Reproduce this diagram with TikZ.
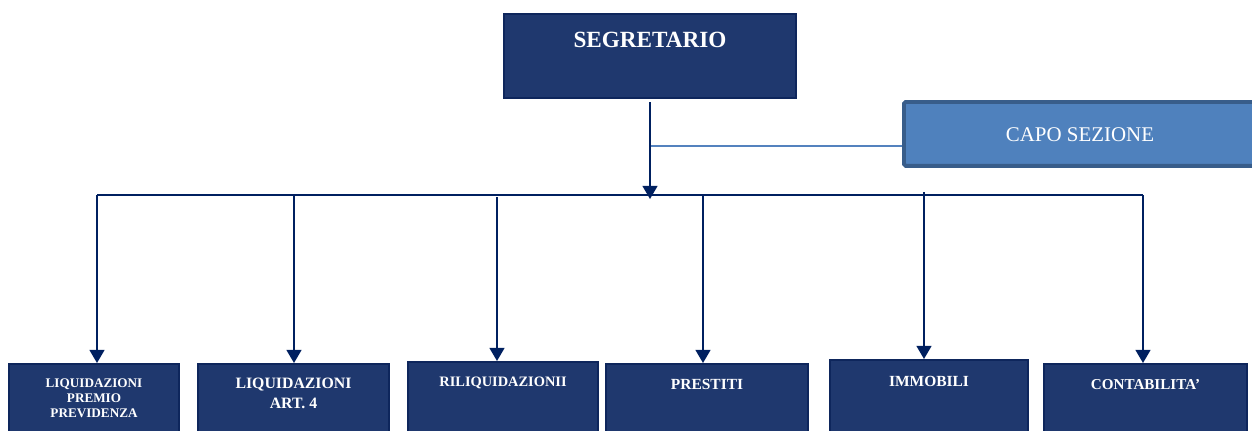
\documentclass[tikz,border=0pt]{standalone}
\usepackage{fontspec}
\setmainfont{Liberation Serif}
\usetikzlibrary{arrows.meta}
\definecolor{navyfill}{RGB}{31,56,110}
\definecolor{navyedge}{RGB}{14,38,92}
\definecolor{arrowc}{RGB}{0,32,96}
\definecolor{capofill}{RGB}{79,129,189}
\definecolor{capoedge}{RGB}{56,93,138}
\definecolor{capoline}{RGB}{84,130,190}
\begin{document}
\begin{tikzpicture}[x=0.02cm,y=-0.02cm,
  box/.style={draw=navyedge, line width=1.2pt, fill=navyfill, inner sep=0pt, anchor=north west},
  capobox/.style={draw=capoedge, line width=2.2pt, fill=capofill, inner sep=0pt, anchor=north west, rounded corners=1pt},
  txt/.style={text=white, inner sep=0pt, anchor=base, align=center, font=\bfseries\fontsize{8.8}{10.5}\selectfont},
  conn/.style={draw=arrowc, line width=1.1pt},
  arr/.style={-{Triangle[width=8.5pt,length=7.5pt]}}
]
\fill[white] (0,0) rectangle (1252,430);
\useasboundingbox (0,0) rectangle (1252,430);
\clip (0,0) rectangle (1252,430);

% boxes
\node[box, minimum width=5.84cm, minimum height=1.68cm] (seg) at (503,13) {};
\node[capobox, minimum width=7.4cm, minimum height=1.28cm] (capo) at (902,100) {};
\node[box, minimum width=3.40cm, minimum height=1.70cm] (b1) at (8,363) {};
\node[box, minimum width=3.82cm, minimum height=1.70cm] (b2) at (197,363) {};
\node[box, minimum width=3.80cm, minimum height=1.74cm] (b3) at (407,361) {};
\node[box, minimum width=4.04cm, minimum height=1.70cm] (b4) at (605,363) {};
\node[box, minimum width=3.96cm, minimum height=1.78cm] (b5) at (829,359) {};
\node[box, minimum width=4.06cm, minimum height=1.70cm] (b6) at (1043,363) {};

% texts
\node[txt, font=\bfseries\fontsize{13.2}{15}\selectfont] (tseg) at (seg.north |- 0,47) {SEGRETARIO};
\node[txt, font=\fontsize{11.9}{14}\selectfont] (tcapo) at (1080,141) {CAPO SEZIONE};
\node[txt, font=\bfseries\fontsize{7.5}{8.4}\selectfont] (t1) at (b1.north |- 0,417) {LIQUIDAZIONI\\PREMIO\\PREVIDENZA};
\node[txt, font=\bfseries\fontsize{9}{11.3}\selectfont] (t2) at (b2.north |- 0,408) {LIQUIDAZIONI\\ART. 4};
\node[txt, font=\bfseries\fontsize{8.2}{10}\selectfont] (t3) at (b3.north |- 0,386) {RILIQUIDAZIONII};
\node[txt] (t4) at (b4.north |- 0,389) {PRESTITI};
\node[txt] (t5) at (b5.north |- 0,386) {IMMOBILI};
\node[txt, font=\bfseries\fontsize{8.6}{10.5}\selectfont] (t6) at (b6.north |- 0,389) {CONTABILITA’};

% connectors
\coordinate (top) at (650,102);
\coordinate (hub) at (650,199);
\coordinate (cj) at (650,146);
\coordinate (d1) at (97,195);
\coordinate (d2) at (294,195);
\coordinate (d3) at (497,197);
\coordinate (d4) at (703,195);
\coordinate (d5) at (924,192);
\coordinate (d6) at (1143,195);

\draw[draw=capoline, line width=1.3pt] (capo.west |- cj) -- (cj);
\draw[conn] (d1) -- (d6);
\draw[conn, arr] (top) -- (hub);
\foreach \i in {1,...,6} {
  \draw[conn, arr] (d\i) -- (d\i |- b\i.north);
}
\end{tikzpicture}
\end{document}
